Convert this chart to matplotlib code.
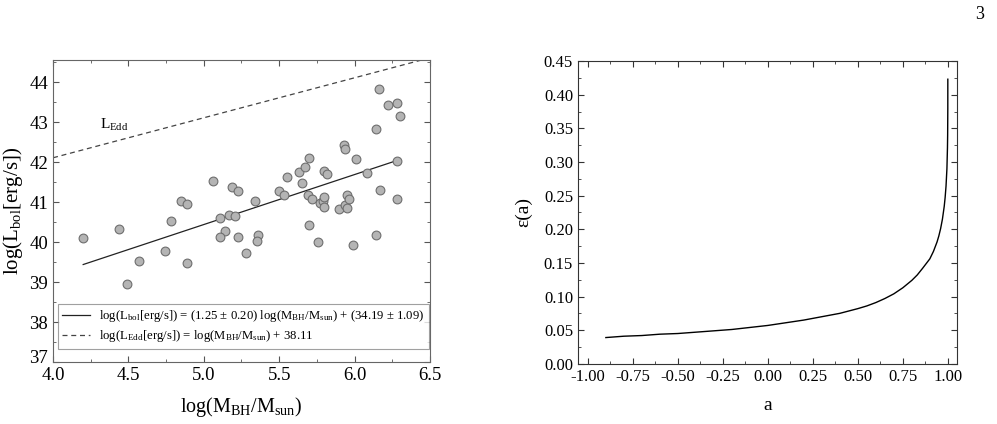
import numpy as np
import matplotlib
matplotlib.use("Agg")
import matplotlib.pyplot as plt
import matplotlib.transforms as mtrans
from matplotlib.ticker import MultipleLocator, FormatStrFormatter

plt.rcParams["font.family"] = ["Liberation Serif", "DejaVu Serif"]
plt.rcParams["mathtext.fontset"] = "custom"
plt.rcParams["mathtext.rm"] = "Liberation Serif"
plt.rcParams["mathtext.it"] = "Liberation Serif:italic"
plt.rcParams["axes.unicode_minus"] = False

# ====== データ（左パネル：散布図） ======
log_mbh = [4.20, 4.44, 4.49, 4.57, 4.74, 4.78, 4.85, 4.89, 4.89, 5.06,
           5.11, 5.14, 5.11, 5.17, 5.19, 5.21, 5.23, 5.23, 5.28, 5.34,
           5.36, 5.35, 5.50, 5.53, 5.55, 5.63, 5.65, 5.67, 5.69, 5.70,
           5.70, 5.72, 5.76, 5.77, 5.79, 5.80, 5.80, 5.80, 5.82, 5.90,
           5.93, 5.94, 5.94, 5.95, 5.95, 5.96, 5.99, 6.01, 6.08, 6.14,
           6.14, 6.16, 6.17, 6.22, 6.28, 6.30, 6.28, 6.28]
log_lbol = [40.11, 40.32, 38.96, 39.53, 39.79, 40.54, 41.04, 40.95, 39.48, 41.52,
            40.60, 40.28, 40.12, 40.69, 41.37, 40.66, 41.29, 40.14, 39.74, 41.02,
            40.19, 40.04, 41.28, 41.18, 41.64, 41.76, 41.49, 41.88, 41.19, 42.11,
            40.44, 41.08, 40.01, 40.98, 41.04, 41.12, 40.89, 41.79, 41.71, 40.84,
            42.44, 42.33, 40.94, 40.86, 41.18, 41.08, 39.92, 42.08, 41.74, 42.84,
            40.18, 43.83, 41.31, 43.42, 43.49, 43.16, 42.03, 41.09]

# フィット直線とエディントン光度
fit_slope, fit_icpt = 1.25, 34.19
fit_xrange = [4.20, 6.28]
edd_icpt = 38.11
edd_xrange = [4.0, 6.5]

# ====== データ（右パネル：放射効率） ======
spin = [-0.9, -0.8, -0.7, -0.6, -0.5, -0.4, -0.3, -0.2, -0.1, 0.0,
        0.1, 0.2, 0.3, 0.4, 0.5, 0.55, 0.6, 0.65, 0.7, 0.75, 0.8, 0.83, 0.86,
        0.88, 0.9, 0.92, 0.94, 0.95, 0.96, 0.97, 0.98, 0.985, 0.99, 0.995,
        0.998, 0.999, 0.9999, 1.0]
eff = [0.039, 0.041, 0.042, 0.044, 0.045, 0.047, 0.049, 0.051, 0.054, 0.057,
       0.061, 0.065, 0.070, 0.075, 0.082, 0.086, 0.091, 0.097, 0.104, 0.113,
       0.124, 0.132, 0.142, 0.149, 0.156, 0.167, 0.181, 0.190, 0.201, 0.215,
       0.234, 0.247, 0.264, 0.290, 0.321, 0.340, 0.380, 0.423]

fig = plt.figure(figsize=(9.97, 4.24), dpi=100)
ax1 = fig.add_axes([0.0532, 0.146, 0.378, 0.712])
ax2 = fig.add_axes([0.5797, 0.142, 0.380, 0.714])

# ====== 左パネル ======
ax1.scatter(log_mbh, log_lbol, s=40, facecolor="#b4b4b4", edgecolor="#6e6e6e",
            linewidth=0.8, zorder=3)
fx = np.array(fit_xrange)
ax1.plot(fx, fit_slope * fx + fit_icpt, color="#222222", lw=0.9,
         label=r"log(L$_{\rm bol}$[erg/s]) = (1.25 ± 0.20) log(M$_{\rm BH}$/M$_{\rm sun}$) + (34.19 ± 1.09)")
ex = np.array(edd_xrange)
ax1.plot(ex, ex + edd_icpt, color="#444444", lw=0.9, dashes=(4, 3),
         label=r"log(L$_{\rm Edd}$[erg/s]) = log(M$_{\rm BH}$/M$_{\rm sun}$) + 38.11")
ax1.text(4.31, 42.94, r"L$_{\rm Edd}$", fontsize=11, va="center", ha="left")

ax1.set_xlim(4.0, 6.5)
ax1.set_ylim(37, 44.55)
ax1.xaxis.set_major_locator(MultipleLocator(0.5))
ax1.xaxis.set_minor_locator(MultipleLocator(0.25))
ax1.yaxis.set_major_locator(MultipleLocator(1))
ax1.yaxis.set_minor_locator(MultipleLocator(0.5))
ax1.xaxis.set_major_formatter(FormatStrFormatter("%.1f"))
ax1.tick_params(which="both", direction="in", top=True, right=True,
                labelsize=13.5, colors="#555555", labelcolor="black")
ax1.tick_params(which="major", length=4)
ax1.tick_params(which="minor", length=2)
ax1.set_xlabel(r"log(M$_{\rm BH}$/M$_{\rm sun}$)", fontsize=14.5, labelpad=8)
ax1.set_ylabel(r"log(L$_{\rm bol}$[erg/s])", fontsize=15, labelpad=3)
for sp in ax1.spines.values():
    sp.set_color("#666666")
leg = ax1.legend(loc="lower left", bbox_to_anchor=(0.012, 0.045), fontsize=9.2,
                 frameon=True, fancybox=False, edgecolor="#888888",
                 handlelength=2.2, borderpad=0.35, labelspacing=0.3,
                 handletextpad=0.7, borderaxespad=0)
leg.get_frame().set_linewidth(0.8)

# 「37」のラベルを少し上に
fig.canvas.draw()
for t in ax1.yaxis.get_major_ticks():
    if abs(t.get_loc() - 37) < 1e-6:
        t.label1.set_transform(t.label1.get_transform() +
                               mtrans.ScaledTranslation(0, 4 / 72, fig.dpi_scale_trans))

# ====== 右パネル ======
ax2.plot(spin, eff, color="black", lw=1.0)
ax2.set_xlim(-1.055, 1.05)
ax2.set_ylim(0, 0.45)
ax2.xaxis.set_major_locator(MultipleLocator(0.25))
ax2.xaxis.set_minor_locator(MultipleLocator(0.125))
ax2.yaxis.set_major_locator(MultipleLocator(0.05))
ax2.yaxis.set_minor_locator(MultipleLocator(0.025))
ax2.xaxis.set_major_formatter(FormatStrFormatter("%.2f"))
ax2.yaxis.set_major_formatter(FormatStrFormatter("%.2f"))
ax2.tick_params(which="both", direction="in", top=True, right=True,
                labelsize=12, colors="#333333", labelcolor="black")
ax2.tick_params(which="major", length=4)
ax2.tick_params(which="minor", length=2)
ax2.set_xlabel("a", fontsize=14, labelpad=9)
ax2.set_ylabel("ε(a)", fontsize=14, labelpad=8)
for sp in ax2.spines.values():
    sp.set_color("#333333")

fig.text(0.983, 0.965, "3", fontsize=13, ha="center", va="center")

fig.savefig("out.png", dpi=100)
